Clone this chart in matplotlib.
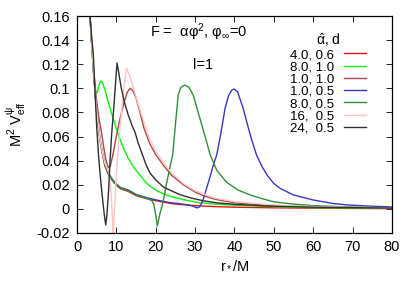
import matplotlib
matplotlib.use("Agg")
import matplotlib.pyplot as plt

plt.rcParams['font.family'] = ['Liberation Sans', 'DejaVu Sans']
plt.rcParams['mathtext.fontset'] = 'custom'
plt.rcParams['mathtext.rm'] = 'Liberation Sans'
plt.rcParams['mathtext.it'] = 'Liberation Sans'

labels = ["4.0, 0.6", "8.0, 1.0", "1.0, 1.0", "1.0, 0.5", "8.0, 0.5", "16,  0.5", "24,  0.5"]
colors = ["#f01010", "#10f010", "#a84848", "#3838c0", "#30903a", "#ffc4c4", "#303030"]

# series 1: alpha=4.0, d=0.6
r_red = [3.0, 3.3, 3.7, 4.2, 4.7, 5.2, 5.8, 6.5, 7.1, 8, 9, 10, 11, 13, 15, 18, 20, 23.6, 26, 30, 35, 40, 50, 60, 70, 80]
v_red = [0.19, 0.16, 0.138, 0.113, 0.092, 0.074, 0.058, 0.045, 0.0355, 0.0285, 0.0235, 0.0195, 0.0168, 0.0145, 0.011, 0.0082, 0.0068, 0.0046, 0.0037, 0.0027, 0.0019, 0.0014, 0.0009, 0.0006, 0.0004, 0.0002]

# series 2: alpha=8.0, d=1.0
r_grn = [3.0, 3.3, 3.7, 4.2, 4.5, 4.8, 5.2, 5.6, 6.0, 6.4, 7.0, 7.5, 8, 9, 10.1, 11, 12, 13, 14.5, 16, 17.3, 18.5, 20.3, 22, 23.6, 26, 28, 31, 35, 40, 50, 60, 80]
v_grn = [0.19, 0.16, 0.139, 0.116, 0.103, 0.096, 0.097, 0.103, 0.106, 0.105, 0.100, 0.094, 0.088, 0.077, 0.0654, 0.057, 0.049, 0.042, 0.034, 0.028, 0.0226, 0.019, 0.015, 0.0125, 0.0105, 0.0085, 0.007, 0.0052, 0.004, 0.003, 0.0018, 0.001, 0.0005]

# series 3: alpha=1.0, d=1.0
r_drd = [3.0, 3.3, 3.7, 4.2, 4.8, 5.5, 6.3, 6.8, 7.3, 7.96, 8.5, 9.2, 10.1, 11, 12, 12.8, 13.5, 14.2, 15, 16, 17, 18.5, 20, 22, 24, 27, 30, 32, 35, 40, 50, 60, 80]
v_drd = [0.19, 0.16, 0.139, 0.116, 0.095, 0.077, 0.062, 0.051, 0.041, 0.0342, 0.036, 0.046, 0.062, 0.076, 0.089, 0.097, 0.100, 0.098, 0.092, 0.080, 0.067, 0.054, 0.045, 0.036, 0.028, 0.020, 0.014, 0.011, 0.008, 0.005, 0.0028, 0.0018, 0.0008]

# series 4: alpha=1.0, d=0.5
r_blu = [3.0, 3.3, 3.7, 4.2, 4.7, 5.2, 5.8, 6.5, 7.1, 8, 9, 10, 11, 13, 15, 18, 20, 23.6, 26, 28, 29.5, 30.5, 31.2, 32, 33, 34, 34.5, 35.5, 36.5, 37.6, 38.5, 39.3, 39.9, 40.8, 42.2, 43.2, 44.3, 45.6, 47, 48.5, 50, 51.6, 55, 60, 65, 68.5, 75, 80]
v_blu = [0.19, 0.16, 0.139, 0.114, 0.093, 0.075, 0.059, 0.046, 0.0365, 0.0295, 0.0245, 0.0205, 0.0178, 0.0157, 0.012, 0.009, 0.0075, 0.0052, 0.0043, 0.0034, 0.0022, 0.0008, 0.0018, 0.0075, 0.018, 0.029, 0.035, 0.045, 0.062, 0.0834, 0.094, 0.0985, 0.0995, 0.097, 0.0834, 0.071, 0.058, 0.0447, 0.035, 0.027, 0.021, 0.017, 0.0115, 0.0074, 0.0045, 0.0033, 0.0022, 0.0016]

# series 5: alpha=8.0, d=0.5
r_dgr = [3.0, 3.3, 3.7, 4.2, 4.7, 5.2, 5.8, 6.5, 7.1, 8, 9, 10, 11, 13, 15, 17, 18, 19, 19.5, 20, 20.4, 20.8, 21.1, 21.5, 22, 22.8, 23.5, 24.3, 25, 25.7, 26.4, 27.4, 28.4, 29.5, 30.6, 31.7, 32.8, 33.8, 35.5, 38, 41, 44, 47, 50, 55, 60, 70, 80]
v_dgr = [0.19, 0.16, 0.1385, 0.1135, 0.0925, 0.0745, 0.0585, 0.0455, 0.036, 0.029, 0.024, 0.02, 0.0173, 0.0151, 0.0115, 0.0095, 0.0085, 0.0068, 0.004, -0.005, -0.0142, -0.008, -0.0034, 0.001, 0.008, 0.022, 0.033, 0.045, 0.070, 0.0945, 0.101, 0.1027, 0.101, 0.0945, 0.082, 0.0696, 0.057, 0.045, 0.032, 0.022, 0.0155, 0.0115, 0.0085, 0.0058, 0.004, 0.0027, 0.0015, 0.0009]

# series 6: alpha=16, d=0.5
r_pnk = [3.0, 3.3, 3.7, 4.2, 4.7, 5.2, 5.8, 6.5, 7.1, 7.7, 8.1, 8.5, 8.8, 9.05, 9.2, 9.35, 9.6, 10.0, 10.5, 10.9, 11.5, 12.0, 12.6, 13.2, 14.0, 14.7, 16, 17.3, 18.5, 20, 22, 24, 27, 30, 35, 40, 50, 60, 80]
v_pnk = [0.19, 0.16, 0.139, 0.114, 0.093, 0.075, 0.059, 0.046, 0.038, 0.033, 0.030, 0.020, 0.005, -0.012, -0.026, -0.012, 0.005, 0.030, 0.052, 0.066, 0.087, 0.104, 0.1166, 0.112, 0.104, 0.096, 0.082, 0.069, 0.058, 0.048, 0.038, 0.030, 0.021, 0.015, 0.009, 0.006, 0.0031, 0.0019, 0.0008]

# series 7: alpha=24, d=0.5
r_blk = [3.0, 3.3, 3.8, 4.15, 4.5, 5.0, 5.5, 6.0, 6.5, 6.9, 7.3, 7.6, 8.0, 8.4, 8.8, 9.3, 9.8, 10.16, 10.6, 11.2, 12, 13, 14, 14.7, 15.5, 16.5, 17.5, 18.5, 20, 22, 23.6, 26, 29, 32, 35.5, 40, 50, 60, 80]
v_blk = [0.19, 0.16, 0.14, 0.128, 0.103, 0.068, 0.043, 0.024, 0.008, -0.004, -0.0134, -0.005, 0.014, 0.040, 0.062, 0.082, 0.105, 0.121, 0.113, 0.101, 0.089, 0.078, 0.069, 0.064, 0.055, 0.046, 0.037, 0.030, 0.024, 0.018, 0.0156, 0.012, 0.009, 0.0068, 0.005, 0.0038, 0.0022, 0.0014, 0.0007]

series = [(r_red, v_red), (r_grn, v_grn), (r_drd, v_drd), (r_blu, v_blu),
          (r_dgr, v_dgr), (r_pnk, v_pnk), (r_blk, v_blk)]

xticks = [0, 10, 20, 30, 40, 50, 60, 70, 80]
yticks = [-0.02, 0, 0.02, 0.04, 0.06, 0.08, 0.1, 0.12, 0.14, 0.16]
ytick_labels = ["-0.02", "0", "0.02", "0.04", "0.06", "0.08", "0.1", "0.12", "0.14", "0.16"]

fig = plt.figure(figsize=(4.17, 2.92), dpi=100)
ax = fig.add_axes([77/417, 1-233/292, (392-77)/417, (233-16)/292])

for (r, v), c, lab in zip(series, colors, labels):
    ax.plot(r, v, color=c, lw=1.0, label=lab)

ax.set_xlim(0, 80)
ax.set_ylim(-0.02, 0.16)
ax.set_xticks(xticks)
ax.set_xticklabels([str(t) for t in xticks])
ax.set_yticks(yticks)
ax.set_yticklabels(ytick_labels)
ax.tick_params(direction='in', top=True, right=True, length=4, width=0.6, labelsize=10.5, pad=5)
for s in ax.spines.values():
    s.set_linewidth(0.9)

ax.set_xlabel("r$_*$/M", fontsize=10.5, labelpad=3)
ax.set_ylabel("M$^2$ V$^{\\psi}_{\\rm eff}$", fontsize=10.5, labelpad=6)

ax.text(31, 0.1467, "F =  αφ$^2$, φ$_\\infty$=0", fontsize=10.5, ha='center', va='center')
ax.text(32, 0.1194, "l=1", fontsize=10.5, ha='center', va='center')

leg = ax.legend(loc='upper right', bbox_to_anchor=(0.955, 0.985), frameon=False,
                markerfirst=False, handlelength=1.7, handletextpad=0.7,
                labelspacing=0.0, fontsize=9.5, title="$\\hat{\\alpha}$, d", title_fontsize=10)

fig.savefig("out.png", dpi=100)
